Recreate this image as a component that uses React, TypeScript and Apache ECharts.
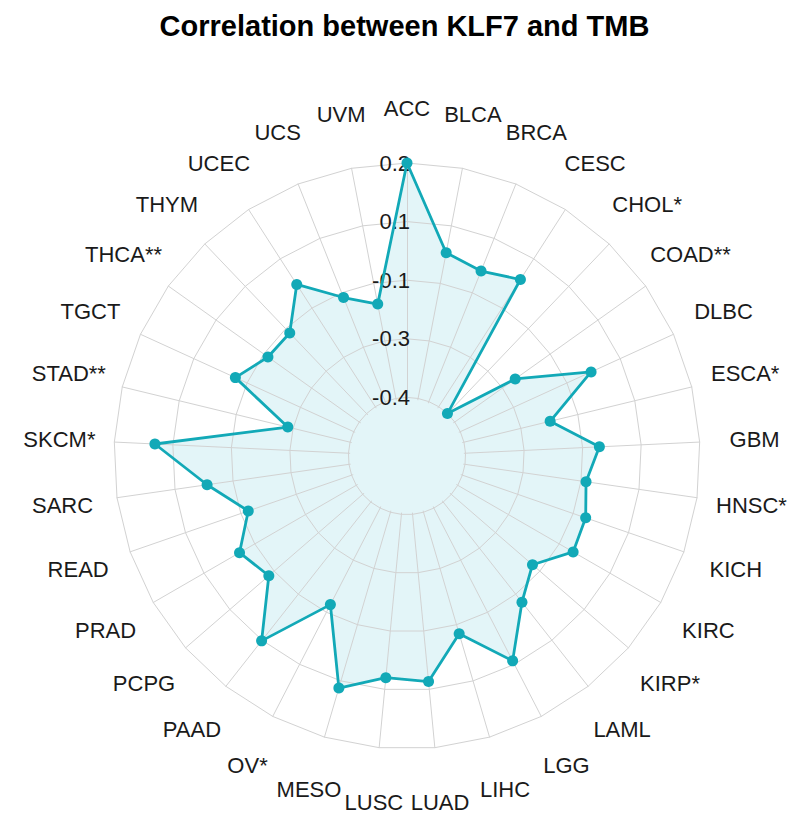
import React, { useEffect, useRef } from 'react';
import * as echarts from 'echarts';

// Cancer types, clockwise from the top
const categories = [
  'ACC', 'BLCA', 'BRCA', 'CESC', 'CHOL*', 'COAD**', 'DLBC', 'ESCA*', 'GBM', 'HNSC*',
  'KICH', 'KIRC', 'KIRP*', 'LAML', 'LGG', 'LIHC', 'LUAD', 'LUSC', 'MESO', 'OV*',
  'PAAD', 'PCPG', 'PRAD', 'READ', 'SARC', 'SKCM*', 'STAD**', 'TGCT', 'THCA**', 'THYM',
  'UCEC', 'UCS', 'UVM',
];

// Correlation values
const correlations = [
  0.2, -0.02, -0.04, -0.013, -0.4, -0.21, -0.032, -0.173, -0.057, -0.087,
  -0.066, -0.059, -0.125, -0.074, 0.04, -0.076, 0.03, 0.02, 0.069, -0.122,
  0.052, -0.082, -0.055, -0.12, -0.033, 0.096, -0.236, -0.067, -0.113, -0.115,
  -0.028, -0.113, -0.154,
];

// Ring tick labels (centre, then each ring outward)
const tickLabels = ['', '-0.4', '-0.3', '-0.1', '0.1', '0.2'];
const axisMin = -0.55;
const axisMax = 0.2;

const TEAL = '#12a9b7';
const FILL = '#e3f5f8';
const GRID = '#d2d2d2';
const FONT = 'Liberation Sans';

export default function App() {
  const ref = useRef<HTMLDivElement>(null);

  useEffect(() => {
    if (!ref.current) return;
    const chart = echarts.init(ref.current, null, { renderer: 'svg' });

    // ECharts radar goes counter-clockwise: reverse all but the first to run clockwise
    const n = categories.length;
    const order = [0, ...categories.slice(1).map((_, i) => n - 1 - i)];
    const indicator = order.map((i) => ({ name: categories[i], min: axisMin, max: axisMax }));
    const data = order.map((i) => correlations[i]);

    const cx = 407;
    const cy = 456;
    const R = 293;
    const common = {
      center: [cx, cy],
      radius: R,
      startAngle: 90,
      splitNumber: 5,
      shape: 'polygon',
    };

    chart.setOption({
      animation: false,
      title: {
        text: 'Correlation between KLF7 and TMB',
        left: 'center',
        top: 6,
        textStyle: { fontFamily: FONT, fontSize: 29, fontWeight: 'bold', color: '#000' },
      },
      radar: [
        {
          ...common,
          z: 2,
          indicator,
          axisName: { show: false },
          axisLine: { show: true, lineStyle: { color: GRID, width: 1 } },
          splitLine: { show: true, lineStyle: { color: GRID, width: 1 } },
          splitArea: { show: false },
          axisTick: { show: false },
          axisLabel: { show: false },
        },
        {
          ...common,
          z: 4,
          axisNameGap: 55,
          indicator: indicator.map((d, k) =>
            k === 0
              ? {
                  ...d,
                  axisLabel: {
                    show: true,
                    margin: -3,
                    color: '#1a1a1a',
                    fontSize: 22,
                    fontFamily: FONT,
                    formatter: (_v: number, idx: number) => tickLabels[idx] ?? '',
                  },
                }
              : d
          ),
          axisName: {
            show: true,
            color: '#1a1a1a',
            fontSize: 22,
            fontFamily: FONT,
            align: 'center',
            verticalAlign: 'middle',
          },
          axisLine: { show: false },
          splitLine: { show: false },
          splitArea: { show: false },
          axisTick: { show: false },
          axisLabel: { show: false },
        },
      ],
      graphic: [
        {
          type: 'circle',
          z: 3,
          silent: true,
          shape: { cx, cy, r: 57 },
          style: { fill: FILL },
        },
      ],
      series: [
        {
          type: 'radar',
          radarIndex: 0,
          z: 1,
          symbol: 'none',
          lineStyle: { width: 0, opacity: 0 },
          areaStyle: { color: FILL, opacity: 1 },
          data: [{ value: data }],
        },
        {
          type: 'radar',
          radarIndex: 0,
          z: 5,
          symbol: 'circle',
          symbolSize: 11,
          lineStyle: { color: TEAL, width: 2.8 },
          itemStyle: { color: TEAL },
          data: [{ value: data }],
        },
      ],
    });

    return () => chart.dispose();
  }, []);

  return (
    <div
      ref={ref}
      style={{ position: 'absolute', left: 0, top: 0, width: 809, height: 830, background: '#fff' }}
    />
  );
}
